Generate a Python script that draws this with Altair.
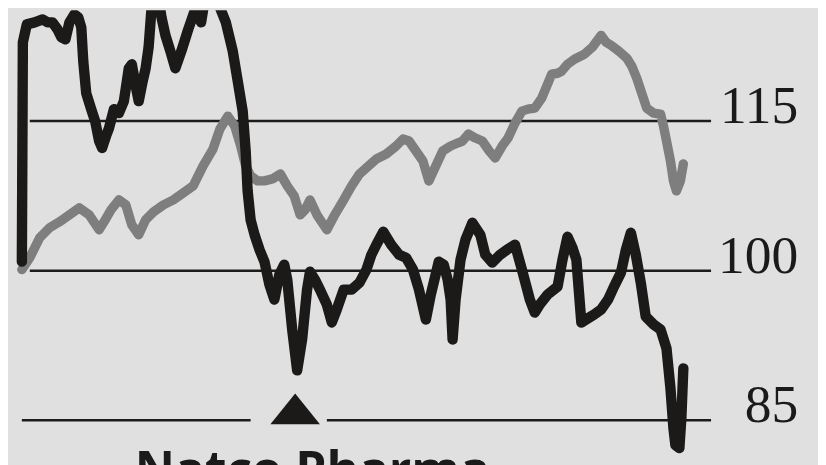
import altair as alt
import pandas as pd

# Natco Pharma (black), rebased to 100
natco_t = [0, 1, 5, 13, 21, 26, 31, 36, 40, 44, 48, 53, 57, 60, 62, 65, 70, 74, 78, 81,
           85, 88, 93, 98, 103, 108, 111, 115, 118, 122, 125, 128, 131, 135, 138, 141, 145, 150, 155, 161,
           168, 175, 181, 185, 190, 196, 200, 206, 213, 218, 223, 226, 228, 231, 235, 240, 245, 250, 255, 260,
           265, 268, 273, 278, 283, 288, 291, 296, 301, 308, 313, 318, 325, 333, 341, 348, 353, 358, 365, 373,
           381, 388, 395, 401, 408, 413, 421, 426, 430, 433, 435, 438, 443, 448, 455, 463, 468, 475, 483, 490,
           498, 505, 513, 518, 523, 531, 541, 546, 551, 556, 560, 565, 573, 578, 585, 592, 598, 605, 610, 615,
           620, 625, 630, 638, 645, 651, 655, 658, 660, 664, 666, 668]
natco_v = [100.9, 122.9, 124.7, 124.9, 125.2, 124.9, 124.9, 124.2, 123.4, 123.2, 124.9, 125.7, 125.4, 124.4, 121.0, 117.8, 116.2, 115.0, 113.0, 112.3,
           113.5, 114.3, 116.2, 115.8, 117.0, 120.3, 120.7, 118.5, 117.0, 119.0, 120.3, 122.4, 126.4, 127.9, 127.4, 125.4, 123.6, 122.0, 120.3, 122.0,
           124.2, 126.2, 124.9, 127.4, 128.1, 127.7, 126.4, 124.9, 122.0, 119.0, 116.0, 112.0, 108.0, 105.1, 103.6, 102.1, 100.9, 98.6, 97.1, 99.6,
           100.6, 99.1, 94.1, 90.0, 93.1, 98.1, 99.9, 99.1, 98.1, 96.6, 94.8, 96.1, 98.1, 98.1, 98.8, 100.1, 101.6, 102.6, 103.9, 102.6,
           101.6, 101.3, 100.1, 98.1, 95.1, 97.6, 100.9, 100.6, 99.1, 97.1, 93.1, 97.1, 101.1, 103.1, 104.8, 103.6, 101.6, 100.8, 101.6, 102.1,
           102.6, 100.1, 97.1, 95.8, 96.6, 97.6, 98.4, 101.1, 103.4, 102.3, 101.1, 94.8, 95.3, 95.6, 96.1, 97.1, 98.4, 99.8, 102.1, 103.8,
           101.6, 98.8, 95.4, 94.6, 94.1, 92.2, 88.2, 84.2, 82.5, 82.2, 85.2, 90.2]

# Benchmark index (grey), rebased to 100
index_t = [0, 8, 18, 28, 38, 48, 58, 68, 78, 83, 90, 98, 105, 111, 118, 125, 133, 143, 153, 163,
           173, 183, 193, 200, 208, 215, 221, 226, 231, 238, 245, 253, 261, 268, 275, 281, 286, 291, 298, 308,
           316, 325, 333, 341, 350, 358, 368, 378, 385, 391, 398, 405, 411, 418, 425, 433, 440, 445, 451, 458,
           465, 472, 478, 485, 491, 498, 505, 511, 518, 525, 530, 535, 541, 545, 551, 558, 568, 576, 585, 590,
           595, 603, 611, 616, 621, 626, 631, 638, 645, 648, 651, 655, 658, 661, 665, 668]
index_v = [100.1, 101.3, 103.3, 104.3, 104.9, 105.6, 106.3, 105.6, 104.1, 104.9, 106.1, 107.1, 106.6, 104.6, 103.6, 105.1, 105.9, 106.6, 107.1, 107.8,
           108.5, 110.5, 112.2, 114.2, 115.5, 114.5, 112.5, 110.5, 109.5, 109.0, 109.0, 109.2, 109.7, 108.5, 107.5, 105.6, 106.1, 107.1, 105.6, 104.1,
           105.6, 107.1, 108.5, 109.7, 110.5, 111.2, 111.7, 112.5, 113.2, 113.0, 112.0, 111.0, 109.0, 110.5, 112.0, 112.5, 112.8, 113.0, 113.7, 113.3,
           113.0, 112.0, 111.3, 112.5, 113.3, 114.8, 116.0, 116.2, 116.3, 117.3, 118.5, 119.7, 119.8, 120.0, 120.7, 121.2, 121.7, 122.4, 123.6, 122.9,
           122.6, 122.0, 121.3, 120.5, 119.3, 117.8, 116.3, 115.8, 115.7, 114.5, 113.0, 111.0, 109.0, 108.0, 109.0, 110.7]

grid_levels = [115, 100, 85, 85]
grid_start = [8, 8, 0, 308]
grid_end = [696, 696, 231, 696]
label_levels = [115, 100, 85]
label_texts = ["115", "100", "85"]
low_marker_t = [276]
low_marker_v = [86.14]
title_text = ["Natco Pharma"]

x_scale = alt.Scale(domain=[-14, 804], nice=False, zero=False)
y_scale = alt.Scale(domain=[80.73, 126.12], nice=False, zero=False)

natco = pd.DataFrame({"t": natco_t, "v": natco_v})
index = pd.DataFrame({"t": index_t, "v": index_v})
grid = pd.DataFrame({"t0": grid_start, "t1": grid_end, "level": grid_levels})
labels = pd.DataFrame({"t": [784] * 3, "level": label_levels, "text": label_texts})
marker = pd.DataFrame({"t": low_marker_t, "v": low_marker_v})
title_df = pd.DataFrame({"t": [114], "v": [78.3], "text": title_text})

X = lambda f: alt.X(f, type="quantitative", scale=x_scale, axis=None)
Y = lambda f: alt.Y(f, type="quantitative", scale=y_scale, axis=None)

rules = alt.Chart(grid).mark_rule(color="#1c1c1c", strokeWidth=2.5).encode(
    x=X("t0"), x2="t1", y=Y("level"))

grey_line = alt.Chart(index).mark_line(
    color="#7e7e7e", strokeWidth=9.5, strokeJoin="round", strokeCap="round", clip=True
).encode(x=X("t"), y=Y("v"))

black_line = alt.Chart(natco).mark_line(
    color="#1c1919", strokeWidth=10.5, strokeJoin="round", strokeCap="round", clip=True
).encode(x=X("t"), y=Y("v"))

tri = alt.Chart(marker).mark_point(
    shape="M0,-0.62L1,0.62L-1,0.62Z", filled=True, color="#1c1919", opacity=1, size=2500
).encode(x=X("t"), y=Y("v"))

lab = alt.Chart(labels).mark_text(
    align="right", baseline="alphabetic", dy=2, font="Liberation Serif", fontSize=54, color="#1a1a1a"
).encode(x=X("t"), y=Y("level"), text="text")

ttl = alt.Chart(title_df).mark_text(
    align="left", baseline="alphabetic", font="Open Sans", fontWeight="bold", fontSize=50, color="#1a1a1a"
).encode(x=X("t"), y=Y("v"), text="text")

chart = alt.layer(rules, grey_line, black_line, tri, lab, ttl).properties(
    width=818, height=457, autosize=alt.AutoSizeParams(type="none"), padding=0,
    background="#e0e0e0"
).configure_view(stroke=None)

chart.save("out.html", embed_options={"renderer": "svg", "actions": False})
